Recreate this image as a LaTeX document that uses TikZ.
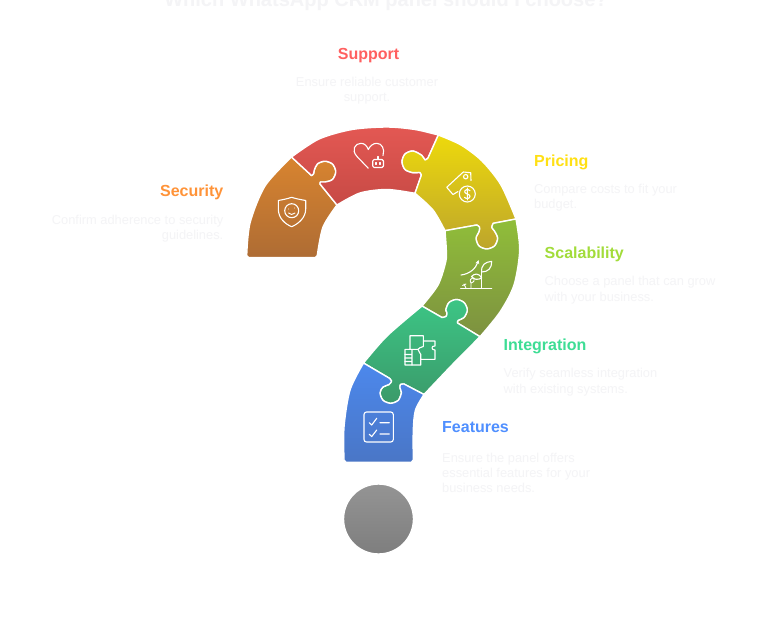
\documentclass[tikz,border=0pt]{standalone}
\usepackage{fontspec}
\setmainfont{Liberation Sans}
\usetikzlibrary{arrows.meta}
\definecolor{desc}{HTML}{F4F4F6}
\definecolor{secT}{HTML}{D8842F}\definecolor{secB}{HTML}{AE6C34}\definecolor{secH}{HTML}{FF9338}
\definecolor{supT}{HTML}{E35853}\definecolor{supB}{HTML}{C74A45}\definecolor{supH}{HTML}{FF6060}
\definecolor{priT}{HTML}{EDD90C}\definecolor{priB}{HTML}{BDA52C}\definecolor{priH}{HTML}{FFE014}
\definecolor{scaT}{HTML}{90BE39}\definecolor{scaB}{HTML}{7D9140}\definecolor{scaH}{HTML}{A2DC3A}
\definecolor{intT}{HTML}{3CC585}\definecolor{intB}{HTML}{3B9A6A}\definecolor{intH}{HTML}{3EDD95}
\definecolor{feaT}{HTML}{4C88EC}\definecolor{feaB}{HTML}{4A76C6}\definecolor{feaH}{HTML}{4F8FFF}
\definecolor{dotT}{HTML}{949494}\definecolor{dotB}{HTML}{7E7E7E}
\tikzset{
  piece/.style n args={2}{draw=white,line width=1.4pt,line join=round,top color=#1,bottom color=#2},
  icon/.style={draw=white,line width=1.1pt,line cap=round,line join=round,fill=none},
  head/.style={font=\fontsize{16}{19}\selectfont\bfseries,inner sep=0pt},
  body/.style={font=\fontsize{12.85}{15.4}\selectfont,text=desc,inner sep=0pt}
}
% seams, always from one rim of the band to the other
\def\seamAf{-- (311.5,175.5) -- plot[smooth] coordinates {(311.5,175.5) (313.5,174) (314.3,170) (317.5,163.8) (325,161.2) (332.5,164) (335.8,171.7) (332.5,179.5) (325,182) (320.5,182) (320,184)} -- (337,205)}
\def\seamAr{-- (320,184) -- plot[smooth] coordinates {(320,184) (320.5,182) (325,182) (332.5,179.5) (335.8,171.7) (332.5,164) (325,161.2) (317.5,163.8) (314.3,170) (313.5,174) (311.5,175.5)} -- (291.5,157)}
\def\seamBf{-- (428,158) -- plot[smooth] coordinates {(428,158) (425,160) (421.9,155.5) (413,151) (405,154) (402,161.7) (405,169.5) (413,172.7) (420,172.5) (421.2,175.5)} -- (415,193.3)}
\def\seamBr{-- (421.2,175.5) -- plot[smooth] coordinates {(421.2,175.5) (420,172.5) (413,172.7) (405,169.5) (402,161.7) (405,154) (413,151) (421.9,155.5) (425,160) (428,158)} -- (438.3,135)}
\def\seamCf{-- (476.7,225) -- plot[smooth] coordinates {(476.7,225) (479.5,227) (479,231.5) (476,238.3) (479,246) (486.7,249) (494.5,246) (497.7,238.3) (494.5,231) (491.7,227.3) (493.3,223.3)} -- (516,219)}
\def\seamCr{-- (493.3,223.3) -- plot[smooth] coordinates {(493.3,223.3) (491.7,227.3) (494.5,231) (497.7,238.3) (494.5,246) (486.7,249) (479,246) (476,238.3) (479,231.5) (479.5,227) (476.7,225)} -- (445,230.7)}
\def\seamDf{-- (442,317.5) -- plot[smooth] coordinates {(442,317.5) (446,316.5) (447,313) (445.8,310) (449,302.5) (456.5,299.5) (464,302.5) (467.3,310) (464,317.5) (458,320.5) (457.5,323)} -- (480,336.7)}
\def\seamDr{-- (457.5,323) -- plot[smooth] coordinates {(457.5,323) (458,320.5) (464,317.5) (467.3,310) (464,302.5) (456.5,299.5) (449,302.5) (445.8,310) (447,313) (446,316.5) (442,317.5)} -- (422,306)}
\def\seamEf{-- (389,378) -- plot[smooth] coordinates {(389,378) (391.5,381) (389,384.5) (383,387) (380,392.7) (383,400.3) (390.7,403.3) (398.3,400.3) (401.4,392.7) (400,388) (400.5,384.5) (404,384)} -- (424,394.5)}
\def\seamEr{-- (404,384) -- plot[smooth] coordinates {(404,384) (400.5,384.5) (400,388) (401.4,392.7) (398.3,400.3) (390.7,403.3) (383,400.3) (380,392.7) (383,387) (389,384.5) (391.5,381) (389,378)} -- (363.5,363)}
\begin{document}
\begin{tikzpicture}[x=1pt,y=-1pt]
\useasboundingbox (0,0) rectangle (768,619);
\fill[white] (0,0) rectangle (768,619);

% ---- puzzle pieces
\path[piece={secT}{secB}] (248.5,257.5) -- (246.7,255.5) -- plot[smooth] coordinates {(246.7,255.5) (250,223) (265,186) (291.5,157)} \seamAf -- plot[smooth] coordinates {(337,205) (323,227) (317.3,255.5)} -- (315.5,257.5) -- cycle;
\path[piece={supT}{supB}] (291.5,157) -- plot[smooth] coordinates {(291.5,157) (319,139) (352,129.5) (387,127) (415,129.5) (438.3,135)} \seamBf -- plot[smooth] coordinates {(415,193.3) (387,189.5) (360,193) (337,205)} \seamAr -- cycle;
\path[piece={priT}{priB}] (438.3,135) -- plot[smooth] coordinates {(438.3,135) (461,145) (482,161) (501,185) (516,219)} \seamCr -- plot[smooth] coordinates {(445,230.7) (433,210) (415,193.3)} \seamBr -- cycle;
\path[piece={scaT}{scaB}] (516,219) -- plot[smooth] coordinates {(516,219) (519.7,250) (514,285) (500,312) (480,336.7)} \seamDr -- plot[smooth] coordinates {(422,306) (438,285) (445.7,262) (446.3,250) (445,230.7)} \seamCf -- cycle;
\path[piece={intT}{intB}] (480,336.7) -- plot[smooth] coordinates {(480,336.7) (452,365) (424,394.5)} \seamEr -- plot[smooth] coordinates {(363.5,363) (387,336) (422,306)} \seamDf -- cycle;
\path[piece={feaT}{feaB}] (424,394.5) -- plot[smooth] coordinates {(424,394.5) (415.5,410) (413.3,430) (413.3,460)} -- (411.3,462.3) -- (346,462.3) -- (344,460) -- plot[smooth] coordinates {(344,460) (344,427) (350,390) (363.5,363)} \seamEf -- cycle;
\node[circle,minimum size=70pt,inner sep=0pt,draw=white,line width=1.4pt,top color=dotT,bottom color=dotB] (dot) at (378.5,519) {};

% ---- icons: security shield
\draw[icon] (278.3,200.5) .. controls (284,199.5) and (288,198.5) .. (291.7,197.3) .. controls (295,198.5) and (300,199.5) .. (305.7,200.5) -- (305.7,209) .. controls (305.7,218) and (298,224) .. (291.7,226.7) .. controls (285,224) and (278.3,218) .. (278.3,209) -- cycle;
\draw[icon] (291.7,210.7) circle (7);
\draw[icon,line width=.9pt] (288.5,209) -- (288.6,209) (294.5,208) -- (294.6,208) (288.5,213) .. controls (290,215) and (293,215) .. (295,213);
% support heart with robot
\draw[icon] (368.3,168.3) -- (357,156.5) .. controls (351,150) and (355,143.3) .. (361,143.3) .. controls (364.5,143.3) and (367,146) .. (368.3,149.5) .. controls (370,146) and (373,143.3) .. (376.7,143.3) .. controls (382,143.3) and (385,149) .. (383,155.5);
\draw[icon,rounded corners=1.5pt] (372.7,159.5) rectangle (383.5,167.5);
\draw[icon] (378,159.5) -- (378,156.5) (376,162.5) -- (376,164.5) (380,162.5) -- (380,164.5);
% pricing tag
\draw[icon] (458,191.5) -- (453,194.5) -- (446.7,187.3) -- (463.3,172) -- (470.7,172.7) -- (471,180.5);
\draw[icon] (465.7,176.7) circle (2.2);
\draw[icon] (467.3,194) circle (8);
\draw[icon] (470,190.7) .. controls (468,188.7) and (464.3,189.7) .. (464.7,192) .. controls (465,194) and (470,194) .. (470,196.3) .. controls (470,198.7) and (466,199.3) .. (464.5,197.3) (467.3,188) -- (467.3,200);
% scalability plant
\draw[icon] (460.7,288.3) -- (491.7,288.3) (481.7,288.3) -- (481.7,272);
\draw[icon] (481.7,272) .. controls (481,265) and (485,262) .. (491.7,261.3) .. controls (492,268) and (488,272) .. (481.7,272);
\draw[icon] (481.7,278) .. controls (478,272) and (474,274) .. (471.5,276.5) .. controls (474,280) and (478,280) .. (481.7,278);
\draw[icon,-{Stealth[length=4pt,width=4pt]}] (461,275) .. controls (470,274) and (476,268) .. (478.5,260);
\draw[icon,line width=.9pt] (471,288.3) -- (471,283) .. controls (474,282) and (475,280) .. (474,278) .. controls (471,278) and (469,280) .. (471,283) (466,288.3) -- (464,284) (462.5,285.5) -- (466,284);
% integration puzzle and document
\draw[icon] (410,349.3) -- (410,335.7) -- (423.3,335.7) -- (423.3,341) -- (435,341) -- (435,346) .. controls (431,345.5) and (431,350) .. (435,350) -- (435,359.3) -- (420.7,359.3) -- (420.7,365) -- (405,365) -- (405,349.3) -- (418,349.3) .. controls (418,353) and (422,353) .. (420.7,356.5) -- (420.7,359.3);
\draw[icon] (423.3,341) -- (423.3,346.5) .. controls (420,346) and (419.5,349.3) .. (418,349.3) (405,354.5) -- (412,354.5) (412,349.3) -- (412,365) (405,358) -- (412,358) (405,361.5) -- (412,361.5);
% features checklist
\draw[icon,rounded corners=2.5pt] (364,412) rectangle (393.3,442);
\draw[icon] (369.3,422.7) -- (371.7,425) -- (376.7,418.3) (380,422.7) -- (389.3,422.7) (369.3,434.3) -- (371.7,436.6) -- (376.7,430) (380,434) -- (389.3,434);

% ---- texts
\node[font=\fontsize{20}{24}\selectfont\bfseries,text=desc,inner sep=0pt,anchor=base] (title) at (386,6) {Which WhatsApp CRM panel should I choose?};
\node[head,text=supH,anchor=base] (supportH) at (368.5,59) {Support};
\node[body,align=center,anchor=north] (supportB) at (367,76.7) {Ensure reliable customer\\support.};
\node[head,text=priH,anchor=base west] (pricingH) at (534,166.5) {Pricing};
\node[body,align=left,anchor=north west] (pricingB) at (534,183.7) {Compare costs to fit your\\budget.};
\node[head,text=scaH,anchor=base west] (scaleH) at (544.5,258) {Scalability};
\node[body,align=left,anchor=north west] (scaleB) at (544.5,276.2) {Choose a panel that can grow\\with your business.};
\node[head,text=intH,anchor=base west] (integH) at (503.5,350.7) {Integration};
\node[body,align=left,anchor=north west] (integB) at (503.5,368.4) {Verify seamless integration\\with existing systems.};
\node[head,text=feaH,anchor=base west] (featH) at (442,432.3) {Features};
\node[body,align=left,anchor=north west] (featB) at (442,452.5) {Ensure the panel offers\\essential features for your\\business needs.};
\node[head,text=secH,anchor=base east] (securH) at (223.5,196.7) {Security};
\node[body,align=right,anchor=north east] (securB) at (223.5,215) {Confirm adherence to security\\guidelines.};
\end{tikzpicture}
\end{document}
